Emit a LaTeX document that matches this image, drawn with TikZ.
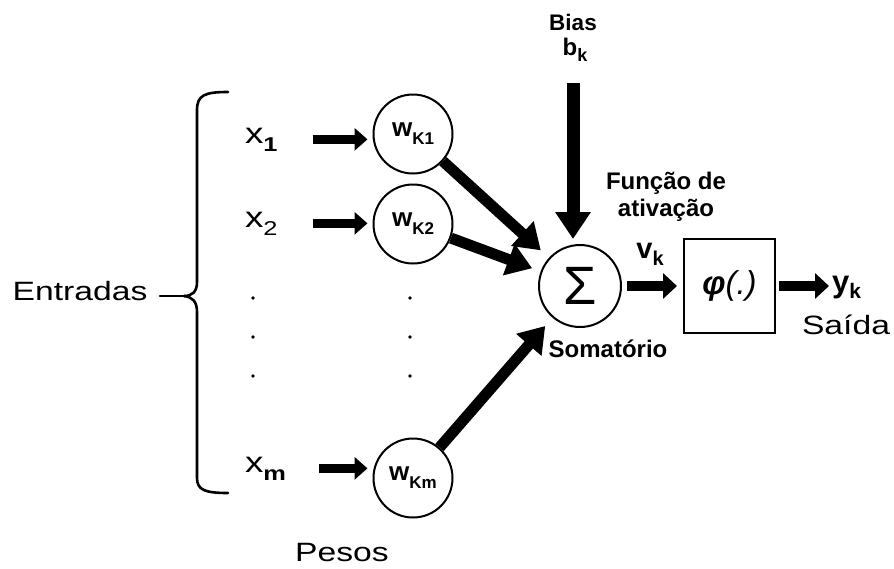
\documentclass[tikz,border=0pt]{standalone}
\usepackage{fontspec}
\setmainfont{Liberation Sans}
\newfontfamily\widefont{Liberation Sans}[FakeStretch=1.27]
\usetikzlibrary{arrows.meta}

% font size helper and a lowered subscript: drop, size, text
\newcommand{\fsz}[1]{\fontsize{#1}{#1}\selectfont}
\newcommand{\sbx}[3]{\raisebox{-#1pt}{\fsz{#2}#3}}

\begin{document}
\begin{tikzpicture}[x=1pt,y=-1pt,
  lbl/.style={inner sep=0pt, outer sep=0pt},
  neuron/.style={circle, draw, line width=2pt, minimum size=79pt, inner sep=0pt},
  dotmark/.style={circle, fill, inner sep=0pt, minimum size=3.6pt},
  feed/.style={line width=9pt, -{Triangle[length=13pt,width=22pt]}},
  fat/.style={line width=11pt, -{Triangle[length=25pt,width=32pt]}},
  biasline/.style={line width=13pt, -{Triangle[length=27pt,width=34pt]}},
  outarrow/.style={line width=10pt, -{Triangle[length=14pt,width=25pt]}},
  brace/.style={line width=2.6pt, line cap=round},
]
\useasboundingbox (0,0) rectangle (894,568);

% inputs
\node[lbl, anchor=base west] (x1) at (245,143) {\widefont\fsz{29}x\sbx{8}{20}{\bfseries 1}};
\node[lbl, anchor=base west] (x2) at (245,227) {\widefont\fsz{29}x\sbx{8}{20}{2}};
\node[lbl, anchor=base west] (xm) at (245,472) {\widefont\fsz{29}x\sbx{8}{20}{\bfseries m}};
\node[dotmark] (dl1) at (253,298) {};
\node[dotmark] (dl2) at (253,337) {};
\node[dotmark] (dl3) at (253,376) {};

% weights
\node[neuron] (w1) at (413,134) {\bfseries\fsz{26}w\sbx{8}{17}{K1}};
\node[neuron] (w2) at (413,224) {\bfseries\fsz{26}w\sbx{8}{17}{K2}};
\node[neuron] (wm) at (413,478) {\bfseries\fsz{26}w\sbx{8}{17}{Km}};
\node[dotmark] (dr1) at (410,298) {};
\node[dotmark] (dr2) at (410,337) {};
\node[dotmark] (dr3) at (410,376) {};

% summing junction and activation
\node[neuron, minimum size=82pt] (sum) at (580,286) {\fsz{54}Σ};
\node[draw, line width=2pt, minimum width=91pt, minimum height=94pt, inner sep=0pt]
  (act) at (729.5,286) {\fsz{33}{\bfseries\itshape φ}\itshape(.)};
\node[lbl, anchor=base west] (yk) at (832,292) {\bfseries\fsz{31}y\sbx{6}{21}{k}};

% labels
\node[lbl] (entradas) at (80,291) {\widefont\fsz{26.5}Entradas};
\node[lbl] (pesos) at (342,553) {\widefont\fsz{26.5}Pesos};
\node[lbl] (saida) at (846,325) {\widefont\fsz{26.5}Saída};
\node[lbl] (somat) at (608,349) {\bfseries\fsz{24}Somatório};
\node[lbl, align=center, font=\bfseries\fontsize{24}{27}\selectfont] (funcao) at (666,197)
  {Função de\\ativação};
\node[lbl] (vk) at (650,254) {\bfseries\fsz{29}v\sbx{7}{20}{k}};
\node[lbl] (biaslbl) at (573,22) {\bfseries\fsz{22.5}Bias};
\node[lbl] (bk) at (575,50) {\bfseries\fsz{24}b\sbx{6}{18}{k}};
\coordinate (btop) at (573,83);

% input arrows
\draw[feed, shorten <=35pt, shorten >=5pt] (x1.east) -- (x1.east -| w1.west);
\draw[feed, shorten <=35pt, shorten >=5pt] (x2.east) -- (x2.east -| w2.west);
\draw[feed, shorten <=33pt, shorten >=5pt] (xm.east) -- (xm.east -| wm.west);

% weighted inputs into the sum
\draw[fat, shorten >=11pt] (w1) -- (sum);
\draw[fat, shorten >=9pt] (w2) -- (sum);
\draw[fat, shorten >=11pt] (wm) -- (sum);

% bias
\draw[biasline, shorten >=5pt] (btop) -- (btop |- sum.north);

% output path
\draw[outarrow, shorten <=5pt, shorten >=6pt] (sum.east) -- (act.west);
\draw[outarrow, shorten <=3pt, shorten >=3pt] (act.east) -- (act.east -| yk.west);

% brace grouping the inputs
\draw[brace] (228,92) .. controls (205,92) and (197,95) .. (197,110)
  -- (197,282) .. controls (197,292) and (192,296) .. (184,296);
\draw[brace] (184,296) .. controls (192,297) and (197,301) .. (197,312)
  -- (197,478) .. controls (197,490) and (205,493) .. (228,493);
\draw[brace] (160,296) -- (185,296);
\end{tikzpicture}
\end{document}
